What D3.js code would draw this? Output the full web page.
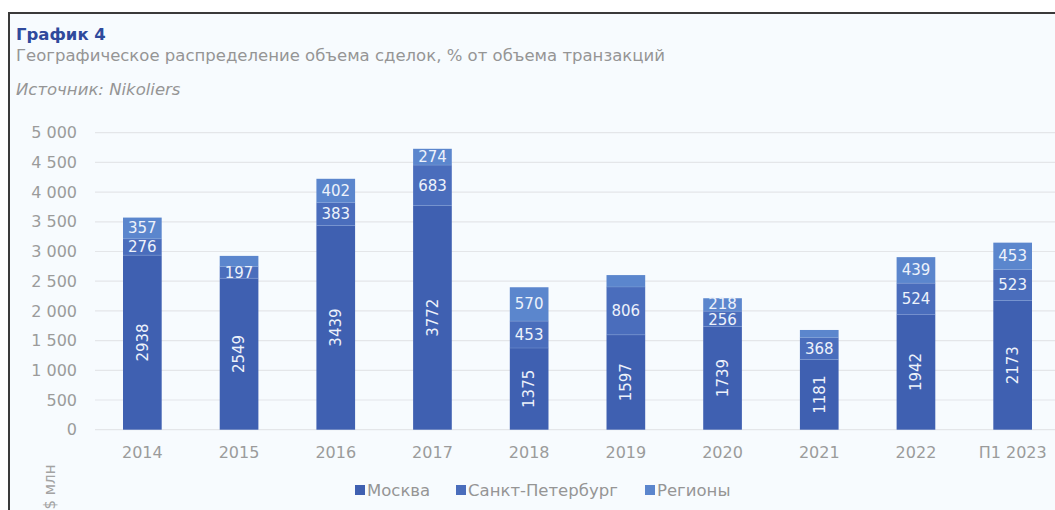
<!DOCTYPE html>
<html>
<head>
<meta charset="utf-8">
<script src="https://cdn.jsdelivr.net/npm/d3@7"></script>
<style>
  html, body { margin: 0; padding: 0; background: #ffffff; }
  svg { display: block; font-family: "DejaVu Sans", Verdana, sans-serif; }
</style>
</head>
<body>
<svg id="chart" width="1055" height="510"></svg>
<script>
// Periods on the horizontal axis
const categories = ["2014", "2015", "2016", "2017", "2018", "2019", "2020", "2021", "2022", "П1 2023"];

// Transaction volume by region, $ mln
const moscow  = [2938, 2549, 3439, 3772, 1375, 1597, 1739, 1181, 1942, 2173];
const spb     = [276, 197, 383, 683, 453, 806, 256, 368, 524, 523];
const regions = [357, 180, 402, 274, 570, 200, 218, 130, 439, 453];

// Which segments carry a value label
const spbLabelShown     = [true, true, true, true, true, true, true, true, true, true];
const regionsLabelShown = [true, false, true, true, true, false, true, false, true, true];

const yTicks = [0, 500, 1000, 1500, 2000, 2500, 3000, 3500, 4000, 4500, 5000];

const seriesNames = ["Москва", "Санкт-Петербург", "Регионы"];
const seriesKeys = ["moscow", "spb", "regions"];
const colors = { moscow: "#3f60b1", spb: "#4a6dbc", regions: "#5b86cd" };

const svg = d3.select("#chart");

// Panel background and frame
svg.append("rect")
  .attr("x", 9).attr("y", 13).attr("width", 1060).attr("height", 520)
  .attr("fill", "#f7fbfe")
  .attr("stroke", "#3a3a3a").attr("stroke-width", 2);

// Heading
svg.append("text").attr("x", 16).attr("y", 40)
  .attr("font-size", 16.5).attr("font-weight", "bold").attr("fill", "#2f4a9c")
  .text("График 4");
svg.append("text").attr("x", 16).attr("y", 61)
  .attr("font-size", 16.5).attr("fill", "#959595")
  .text("Географическое распределение объема сделок, % от объема транзакций");
svg.append("text").attr("x", 16).attr("y", 95)
  .attr("font-size", 16.5).attr("font-style", "italic").attr("fill", "#959595")
  .text("Источник: Nikoliers");

const rows = categories.map((c, i) => ({
  category: c, moscow: moscow[i], spb: spb[i], regions: regions[i], i
}));

const x = d3.scaleBand().domain(categories).range([94, 1061])
  .paddingInner(0.6).paddingOuter(0.3);
const y = d3.scaleLinear().domain([0, 5000]).range([429.7, 132.7]);

// Horizontal gridlines
svg.append("g").selectAll("line").data(yTicks).join("line")
  .attr("x1", 95).attr("x2", 1055)
  .attr("y1", d => y(d)).attr("y2", d => y(d))
  .attr("stroke", "#e4e6e9").attr("stroke-width", 1.2);

// Value axis
const fmt = d => d3.format(",")(d).replace(/,/g, " ");
const yAxis = svg.append("g").attr("transform", "translate(77,0)")
  .call(d3.axisLeft(y).tickValues(yTicks).tickFormat(fmt).tickSize(0).tickPadding(0));
yAxis.select(".domain").remove();
yAxis.selectAll("text")
  .attr("font-family", "DejaVu Sans, Verdana, sans-serif")
  .attr("font-size", 16).attr("fill", "#9b9b9b");

// Category axis
const xAxis = svg.append("g").attr("transform", "translate(0,430)")
  .call(d3.axisBottom(x).tickSize(0).tickPadding(17));
xAxis.select(".domain").remove();
xAxis.selectAll("text")
  .attr("font-family", "DejaVu Sans, Verdana, sans-serif")
  .attr("font-size", 16).attr("fill", "#9b9b9b");

// Stacked bars
const stacked = d3.stack().keys(seriesKeys)(rows);
const layers = svg.append("g").selectAll("g").data(stacked).join("g")
  .attr("fill", d => colors[d.key]);
layers.selectAll("rect").data(d => d).join("rect")
  .attr("x", d => x(d.data.category))
  .attr("width", x.bandwidth())
  .attr("y", d => y(d[1]))
  .attr("height", d => y(d[0]) - y(d[1]));

// Faint separators between segments
svg.append("g").selectAll("line")
  .data(stacked.slice(0, 2).flatMap(s => s))
  .join("line")
  .attr("x1", d => x(d.data.category)).attr("x2", d => x(d.data.category) + x.bandwidth())
  .attr("y1", d => y(d[1])).attr("y2", d => y(d[1]))
  .attr("stroke", "#8aa6dc").attr("stroke-width", 0.6).attr("opacity", 0.6);

// Segment value labels
const labelG = svg.append("g")
  .attr("font-size", 15).attr("fill", "#edf2fb").attr("text-anchor", "middle");

const mid = d => (y(d[0]) + y(d[1])) / 2;

// Moscow values, rotated
labelG.selectAll("text.m").data(stacked[0]).join("text").attr("class", "m")
  .attr("transform", d => {
    const cx = x(d.data.category) + x.bandwidth() / 2;
    return `translate(${cx},${mid(d)}) rotate(-90)`;
  })
  .attr("dy", "0.35em")
  .text(d => d.data.moscow);

// Horizontal labels for the upper segments; thin neighbouring segments
// get their labels spread apart so they stay readable
const minGap = 16.5;
const upper = categories.map((c, i) => {
  const s = stacked[1][i], r = stacked[2][i];
  let ys = mid(s), yr = mid(r);
  if (spbLabelShown[i] && regionsLabelShown[i] && ys - yr < minGap) {
    const c0 = (ys + yr) / 2;
    ys = c0 + minGap / 2;
    yr = c0 - minGap / 2;
  }
  return { c, i, ys, yr };
});

labelG.selectAll("text.s").data(upper.filter(d => spbLabelShown[d.i]))
  .join("text").attr("class", "s")
  .attr("x", d => x(d.c) + x.bandwidth() / 2)
  .attr("y", d => d.ys)
  .attr("dy", "0.35em")
  .text(d => spb[d.i]);

labelG.selectAll("text.r").data(upper.filter(d => regionsLabelShown[d.i]))
  .join("text").attr("class", "r")
  .attr("x", d => x(d.c) + x.bandwidth() / 2)
  .attr("y", d => d.yr)
  .attr("dy", "0.35em")
  .text(d => regions[d.i]);

// Unit label
svg.append("text")
  .attr("transform", "translate(50,487) rotate(-90)")
  .attr("text-anchor", "middle").attr("dy", "0.35em")
  .attr("font-size", 15).attr("fill", "#a3a3a3")
  .text("$ млн");

// Legend
const legendX = [355, 456, 645];
const legend = svg.append("g").selectAll("g").data(seriesKeys).join("g")
  .attr("transform", (d, i) => `translate(${legendX[i]},490)`);
legend.append("rect").attr("x", 0).attr("y", -5).attr("width", 10).attr("height", 10)
  .attr("fill", d => colors[d]);
legend.append("text").attr("x", 12).attr("dy", "0.35em")
  .attr("font-size", 16.5).attr("fill", "#959595")
  .text((d, i) => seriesNames[i]);
</script>
</body>
</html>
